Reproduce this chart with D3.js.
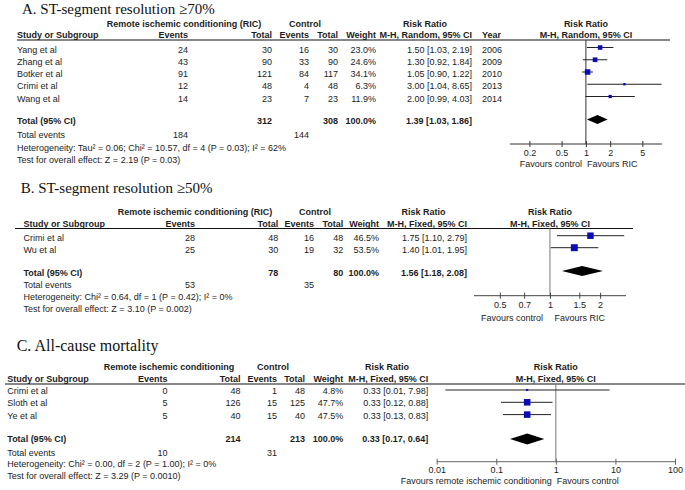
<!DOCTYPE html>
<html><head><meta charset="utf-8">
<script src="https://cdn.jsdelivr.net/npm/d3@7"></script>
<style>
body{margin:0;background:#fff}
svg{display:block;background:#fff}
text{font-family:"Liberation Sans",Arial,sans-serif;font-size:9px;fill:#1c1c1c}
text.title{font-family:"Liberation Serif","Times New Roman",serif;fill:#111}
text.b{font-weight:bold}
</style></head><body>
<svg id="c" width="685" height="490"></svg>
<script>
// ---------------- Panel A data ----------------
const aTitle = "A. ST-segment resolution \u226570%";
const aGroupLabel = "Remote ischemic conditioning (RIC)";
const aStudies = ["Yang et al", "Zhang et al", "Botker et al", "Crimi et al", "Wang et al"];
const aRicEvents = [24, 43, 91, 12, 14];
const aRicTotal = [30, 90, 121, 48, 23];
const aCtlEvents = [16, 33, 84, 4, 7];
const aCtlTotal = [30, 90, 117, 48, 23];
const aWeight = [23.0, 24.6, 34.1, 6.3, 11.9];
const aRR = [1.50, 1.30, 1.05, 3.00, 2.00];
const aLow = [1.03, 0.92, 0.90, 1.04, 0.99];
const aHigh = [2.19, 1.84, 1.22, 8.65, 4.03];
const aYears = [2006, 2009, 2010, 2013, 2014];
const aSummary = [1.39, 1.03, 1.86];
const aTotals = [312, 308];
const aTotalWeight = 100.0;
const aTotalEvents = [184, 144];
const aHet = "Heterogeneity: Tau\u00b2 = 0.06; Chi\u00b2 = 10.57, df = 4 (P = 0.03); I\u00b2 = 62%";
const aTest = "Test for overall effect: Z = 2.19 (P = 0.03)";
const aMethod = "M-H, Random, 95% CI";
const aTicks = [0.2, 0.5, 1, 2, 5];
const aExtent = [0.115, 8.75];
const aFavours = ["Favours control", "Favours RIC"];

// ---------------- Panel B data ----------------
const bTitle = "B. ST-segment resolution \u226550%";
const bGroupLabel = "Remote ischemic conditioning (RIC)";
const bStudies = ["Crimi et al", "Wu et al"];
const bRicEvents = [28, 25];
const bRicTotal = [48, 30];
const bCtlEvents = [16, 19];
const bCtlTotal = [48, 32];
const bWeight = [46.5, 53.5];
const bRR = [1.75, 1.40];
const bLow = [1.10, 1.01];
const bHigh = [2.79, 1.95];
const bSummary = [1.56, 1.18, 2.08];
const bTotals = [78, 80];
const bTotalWeight = 100.0;
const bTotalEvents = [53, 35];
const bHet = "Heterogeneity: Chi\u00b2 = 0.64, df = 1 (P = 0.42); I\u00b2 = 0%";
const bTest = "Test for overall effect: Z = 3.10 (P = 0.002)";
const bMethod = "M-H, Fixed, 95% CI";
const bTicks = [0.5, 0.7, 1, 1.5, 2];
const bExtent = [0.35, 2.86];
const bFavours = ["Favours control", "Favours RIC"];

// ---------------- Panel C data ----------------
const cTitle = "C. All-cause mortality";
const cGroupLabel = "Remote ischemic conditioning";
const cStudies = ["Crimi et al", "Sloth et al", "Ye et al"];
const cRicEvents = [0, 5, 5];
const cRicTotal = [48, 126, 40];
const cCtlEvents = [1, 15, 15];
const cCtlTotal = [48, 125, 40];
const cWeight = [4.8, 47.7, 47.5];
const cRR = [0.33, 0.33, 0.33];
const cLow = [0.014, 0.12, 0.13];
const cHigh = [7.98, 0.88, 0.83];
const cSummary = [0.33, 0.17, 0.64];
const cTotals = [214, 213];
const cTotalWeight = 100.0;
const cTotalEvents = [10, 31];
const cHet = "Heterogeneity: Chi\u00b2 = 0.00, df = 2 (P = 1.00); I\u00b2 = 0%";
const cTest = "Test for overall effect: Z = 3.29 (P = 0.0010)";
const cMethod = "M-H, Fixed, 95% CI";
const cTicks = [0.01, 0.1, 1, 10, 100];
const cExtent = [0.01, 100];
const cFavours = ["Favours remote ischemic conditioning", "Favours control"];

// ---------------- layout ----------------
const layoutA = {
  titleX: 22, titleY: 13.5, titleSize: 15,
  groupY: 27, headY: 38, lineY: 40, lineX: [17, 670],
  studyX: 17, ricHeadX: 184, ctlHeadX: 305,
  ricEvX: 188, ricTotX: 272, ctlEvX: 309, ctlTotX: 338, wX: 376, rrX: 472, rrHeadX: 425, yearX: 482,
  row0: 52.5, rowStep: 12.25, sqOff: 5, sqK: 0.95,
  totalY: 124, diamondY: 119.5, diamondH: 9, totEvY: 138, hetY: 151, testY: 163,
  forestRange: [510, 662], axisY: 144, tickLabY: 155.5, favY: 167, favGap: [4, 1],
  vColor: "#333", axisColor: "#333"
};
const layoutB = {
  titleX: 20.7, titleY: 193, titleSize: 15,
  groupY: 215, headY: 226.5, lineY: 228.5, lineX: [15, 633],
  studyX: 23.5, ricHeadX: 195, ctlHeadX: 315,
  ricEvX: 195, ricTotX: 278.3, ctlEvX: 314, ctlTotX: 343.3, wX: 379, rrX: 467, rrHeadX: 423.5,
  row0: 240.7, rowStep: 12, sqOff: 5, sqK: 0.95,
  totalY: 275.7, diamondY: 271, diamondH: 10, totEvY: 288.3, hetY: 300, testY: 311.7,
  forestRange: [474, 626], axisY: 295.7, tickLabY: 308.3, favY: 320.5, favGap: [7, 4.5],
  vColor: "#777", axisColor: "#444"
};
const layoutC = {
  titleX: 16.7, titleY: 350.7, titleSize: 16,
  groupY: 370, headY: 382.3, lineY: 384, lineX: [5, 685],
  studyX: 7.3, ricHeadX: 169, ctlHeadX: 273,
  ricEvX: 167.5, ricTotX: 240.5, ctlEvX: 277, ctlTotX: 305, wX: 343.3, rrX: 428.3, rrHeadX: 387,
  row0: 394, rowStep: 12.3, sqOff: 4, sqK: 0.95,
  totalY: 442, diamondY: 439, diamondH: 11, totEvY: 455.7, hetY: 467.3, testY: 479.3,
  forestRange: [436.7, 675], axisY: 461.7, tickLabY: 473, favY: 484, favGap: [4, 1],
  vColor: "#777", axisColor: "#666"
};

const svg = d3.select("#c");
svg.append("rect").attr("width", 685).attr("height", 490).attr("fill", "#fff");

function fmtRR(r, l, h) { return r.toFixed(2) + " [" + l.toFixed(2) + ", " + h.toFixed(2) + "]"; }

function drawPanel(D, L) {
  const g = svg.append("g");
  const T = (x, y, s, anchor, cls) => g.append("text")
    .attr("x", x).attr("y", y).attr("text-anchor", anchor || "start")
    .attr("class", cls || null).text(s);

  g.append("text").attr("class", "title").attr("x", L.titleX).attr("y", L.titleY)
    .style("font-size", L.titleSize + "px").text(D.title);

  // group headers
  T(L.ricHeadX, L.groupY, D.groupLabel, "middle", "b");
  T(L.ctlHeadX, L.groupY, "Control", "middle", "b");
  T(L.rrHeadX, L.groupY, "Risk Ratio", "middle", "b");
  // column headers
  T(L.studyX, L.headY, "Study or Subgroup", "start", "b");
  T(L.ricEvX, L.headY, "Events", "end", "b");
  T(L.ricTotX, L.headY, "Total", "end", "b");
  T(L.ctlEvX, L.headY, "Events", "end", "b");
  T(L.ctlTotX, L.headY, "Total", "end", "b");
  T(L.wX, L.headY, "Weight", "end", "b");
  T(L.rrX, L.headY, D.method, "end", "b");
  if (D.years) T(L.yearX, L.headY, "Year", "start", "b");

  g.append("line").attr("x1", L.lineX[0]).attr("x2", L.lineX[1])
    .attr("y1", L.lineY).attr("y2", L.lineY).attr("stroke", "#111").attr("stroke-width", 1.1);

  const x = d3.scaleLog().domain(D.extent).range(L.forestRange);
  const x1 = x(1);
  T(x1, L.groupY, "Risk Ratio", "middle", "b");
  T(x1, L.headY, D.method, "middle", "b");

  const yRow = i => L.row0 + i * L.rowStep;
  const idx = D.studies.map((_, i) => i);

  const cols = [
    { v: i => D.studies[i], x: L.studyX, a: "start" },
    { v: i => D.ricEv[i], x: L.ricEvX, a: "end" },
    { v: i => D.ricTot[i], x: L.ricTotX, a: "end" },
    { v: i => D.ctlEv[i], x: L.ctlEvX, a: "end" },
    { v: i => D.ctlTot[i], x: L.ctlTotX, a: "end" },
    { v: i => D.weight[i].toFixed(1) + "%", x: L.wX, a: "end" },
    { v: i => fmtRR(D.rr[i], D.lo[i], D.hi[i]), x: L.rrX, a: "end" }
  ];
  if (D.years) cols.push({ v: i => D.years[i], x: L.yearX, a: "start" });
  cols.forEach(c => {
    g.append("g").selectAll("text").data(idx).join("text")
      .attr("x", c.x).attr("y", yRow).attr("text-anchor", c.a).text(c.v);
  });

  // totals
  T(L.studyX, L.totalY, "Total (95% CI)", "start", "b");
  T(L.ricTotX, L.totalY, D.totals[0], "end", "b");
  T(L.ctlTotX, L.totalY, D.totals[1], "end", "b");
  T(L.wX, L.totalY, D.totalWeight.toFixed(1) + "%", "end", "b");
  T(L.rrX, L.totalY, fmtRR(D.summary[0], D.summary[1], D.summary[2]), "end", "b");
  T(L.studyX, L.totEvY, "Total events", "start");
  T(L.ricEvX, L.totEvY, D.totEv[0], "end");
  T(L.ctlEvX, L.totEvY, D.totEv[1], "end");
  T(L.studyX, L.hetY, D.het, "start");
  T(L.studyX, L.testY, D.test, "start");

  // forest: null line
  g.append("line").attr("x1", x1).attr("x2", x1).attr("y1", L.lineY).attr("y2", L.axisY)
    .attr("stroke", L.vColor).attr("stroke-width", 1);

  // CI lines
  g.append("g").selectAll("line").data(idx).join("line")
    .attr("x1", i => x(D.lo[i])).attr("x2", i => x(D.hi[i]))
    .attr("y1", i => yRow(i) - L.sqOff).attr("y2", i => yRow(i) - L.sqOff)
    .attr("stroke", "#222").attr("stroke-width", 1);
  // squares
  g.append("g").selectAll("rect").data(idx).join("rect")
    .attr("x", i => x(D.rr[i]) - L.sqK * Math.sqrt(D.weight[i]) / 2)
    .attr("y", i => yRow(i) - L.sqOff - L.sqK * Math.sqrt(D.weight[i]) / 2)
    .attr("width", i => L.sqK * Math.sqrt(D.weight[i]))
    .attr("height", i => L.sqK * Math.sqrt(D.weight[i]))
    .attr("fill", "#0b0bb8");
  // diamond
  const s = D.summary, dy = L.diamondY, dh = L.diamondH / 2;
  g.append("polygon")
    .attr("points", [[x(s[1]), dy], [x(s[0]), dy - dh], [x(s[2]), dy], [x(s[0]), dy + dh]].map(p => p.join(",")).join(" "))
    .attr("fill", "#000");

  // axis
  g.append("line").attr("x1", x(D.extent[0])).attr("x2", x(D.extent[1]))
    .attr("y1", L.axisY).attr("y2", L.axisY).attr("stroke", L.axisColor).attr("stroke-width", 1);
  const ax = d3.axisBottom(x).tickValues(D.ticks).tickFormat(d => String(d))
    .tickSizeInner(6).tickSizeOuter(0).tickPadding(2);
  const ag = g.append("g").attr("transform", "translate(0," + (L.axisY - 3) + ")").call(ax);
  ag.select(".domain").remove();
  ag.selectAll(".tick line").attr("stroke", L.axisColor);
  ag.selectAll(".tick text").attr("fill", "#1c1c1c").attr("dy", null)
    .attr("y", L.tickLabY - (L.axisY - 3))
    .style("font-family", '"Liberation Sans",Arial,sans-serif').style("font-size", "9px");
  ag.attr("font-family", null).attr("font-size", null);

  T(x1 - L.favGap[0], L.favY, D.favours[0], "end");
  T(x1 + L.favGap[1], L.favY, D.favours[1], "start");
}

drawPanel({
  title: aTitle, groupLabel: aGroupLabel, studies: aStudies, ricEv: aRicEvents, ricTot: aRicTotal,
  ctlEv: aCtlEvents, ctlTot: aCtlTotal, weight: aWeight, rr: aRR, lo: aLow, hi: aHigh, years: aYears,
  summary: aSummary, totals: aTotals, totalWeight: aTotalWeight, totEv: aTotalEvents, het: aHet, test: aTest,
  method: aMethod, ticks: aTicks, extent: aExtent, favours: aFavours
}, layoutA);
drawPanel({
  title: bTitle, groupLabel: bGroupLabel, studies: bStudies, ricEv: bRicEvents, ricTot: bRicTotal,
  ctlEv: bCtlEvents, ctlTot: bCtlTotal, weight: bWeight, rr: bRR, lo: bLow, hi: bHigh,
  summary: bSummary, totals: bTotals, totalWeight: bTotalWeight, totEv: bTotalEvents, het: bHet, test: bTest,
  method: bMethod, ticks: bTicks, extent: bExtent, favours: bFavours
}, layoutB);
drawPanel({
  title: cTitle, groupLabel: cGroupLabel, studies: cStudies, ricEv: cRicEvents, ricTot: cRicTotal,
  ctlEv: cCtlEvents, ctlTot: cCtlTotal, weight: cWeight, rr: cRR, lo: cLow, hi: cHigh,
  summary: cSummary, totals: cTotals, totalWeight: cTotalWeight, totEv: cTotalEvents, het: cHet, test: cTest,
  method: cMethod, ticks: cTicks, extent: cExtent, favours: cFavours
}, layoutC);
</script>
</body></html>
